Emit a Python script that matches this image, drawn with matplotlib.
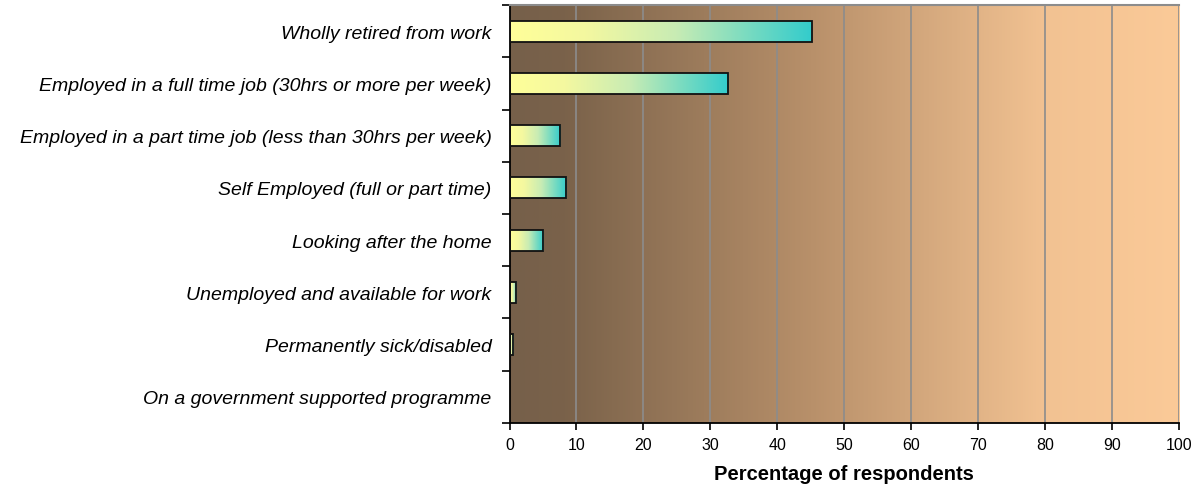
"""Employment status of respondents as gradient horizontal bars."""

import matplotlib

matplotlib.use("Agg")
import matplotlib.pyplot as plt
import numpy as np
from matplotlib.colors import LinearSegmentedColormap
from matplotlib.patches import Rectangle

categories = [
    "Wholly retired from work",
    "Employed in a full time job (30hrs or more per week)",
    "Employed in a part time job (less than 30hrs per week)",
    "Self Employed (full or part time)",
    "Looking after the home",
    "Unemployed and available for work",
    "Permanently sick/disabled",
    "On a government supported programme",
]
percentages = [45.1, 32.6, 7.5, 8.4, 5.0, 0.9, 0.5, 0.0]
x_ticks = list(range(0, 101, 10))

plt.rcParams["font.family"] = ["Liberation Sans", "DejaVu Sans"]

background = LinearSegmentedColormap.from_list(
    "bg", [(0.0, "#76604a"), (0.08, "#7a624a"), (0.45, "#b8906a"), (0.8, "#f2c292"), (1.0, "#fbca98")]
)
bar_fill = LinearSegmentedColormap.from_list(
    "bar", [(0.0, "#ffff99"), (0.25, "#f4f8a0"), (0.55, "#c8ecb4"), (1.0, "#33cccc")]
)

fig = plt.figure(figsize=(12, 4.89), dpi=100)
ax = fig.add_axes([0.4246, 0.133, 0.558, 0.8547])

n = len(categories)

# plot area background gradient
ramp = np.linspace(0, 1, 512).reshape(1, -1)
ax.imshow(ramp, cmap=background, aspect="auto", extent=(0, 100, n - 0.5, -0.5), zorder=0)

for x in x_ticks[1:]:
    ax.axvline(x, color="#8c8c8c", linewidth=1.2, zorder=1)

bar_height = 0.4
for i, value in enumerate(percentages):
    if value <= 0:
        continue
    ax.imshow(ramp, cmap=bar_fill, aspect="auto",
              extent=(0, value, i + bar_height / 2, i - bar_height / 2), zorder=2)
    ax.add_patch(Rectangle((0, i - bar_height / 2), value, bar_height,
                           fill=False, edgecolor="#111111", linewidth=1.3, zorder=3))

ax.set_xlim(0, 100)
ax.set_ylim(n - 0.5, -0.5)

ax.set_xticks(x_ticks)
ax.tick_params(axis="x", length=5, width=1.2, labelsize=11.5, pad=5)
ax.set_yticks(np.arange(n))
ax.set_yticklabels(categories, fontsize=14, fontstyle="italic")
ax.tick_params(axis="y", which="major", length=0, pad=13)
ax.set_yticks(np.arange(n + 1) - 0.5, minor=True)
ax.tick_params(axis="y", which="minor", length=6, width=1.2)

ax.set_xlabel("Percentage of respondents", fontsize=14.5, fontweight="bold", labelpad=9)

for side in ("left", "bottom"):
    ax.spines[side].set_color("black")
    ax.spines[side].set_linewidth(1.3)
ax.spines["top"].set_color("#8c8c8c")
ax.spines["top"].set_linewidth(1.5)
ax.spines["right"].set_visible(False)

fig.savefig("out.png", dpi=100)
